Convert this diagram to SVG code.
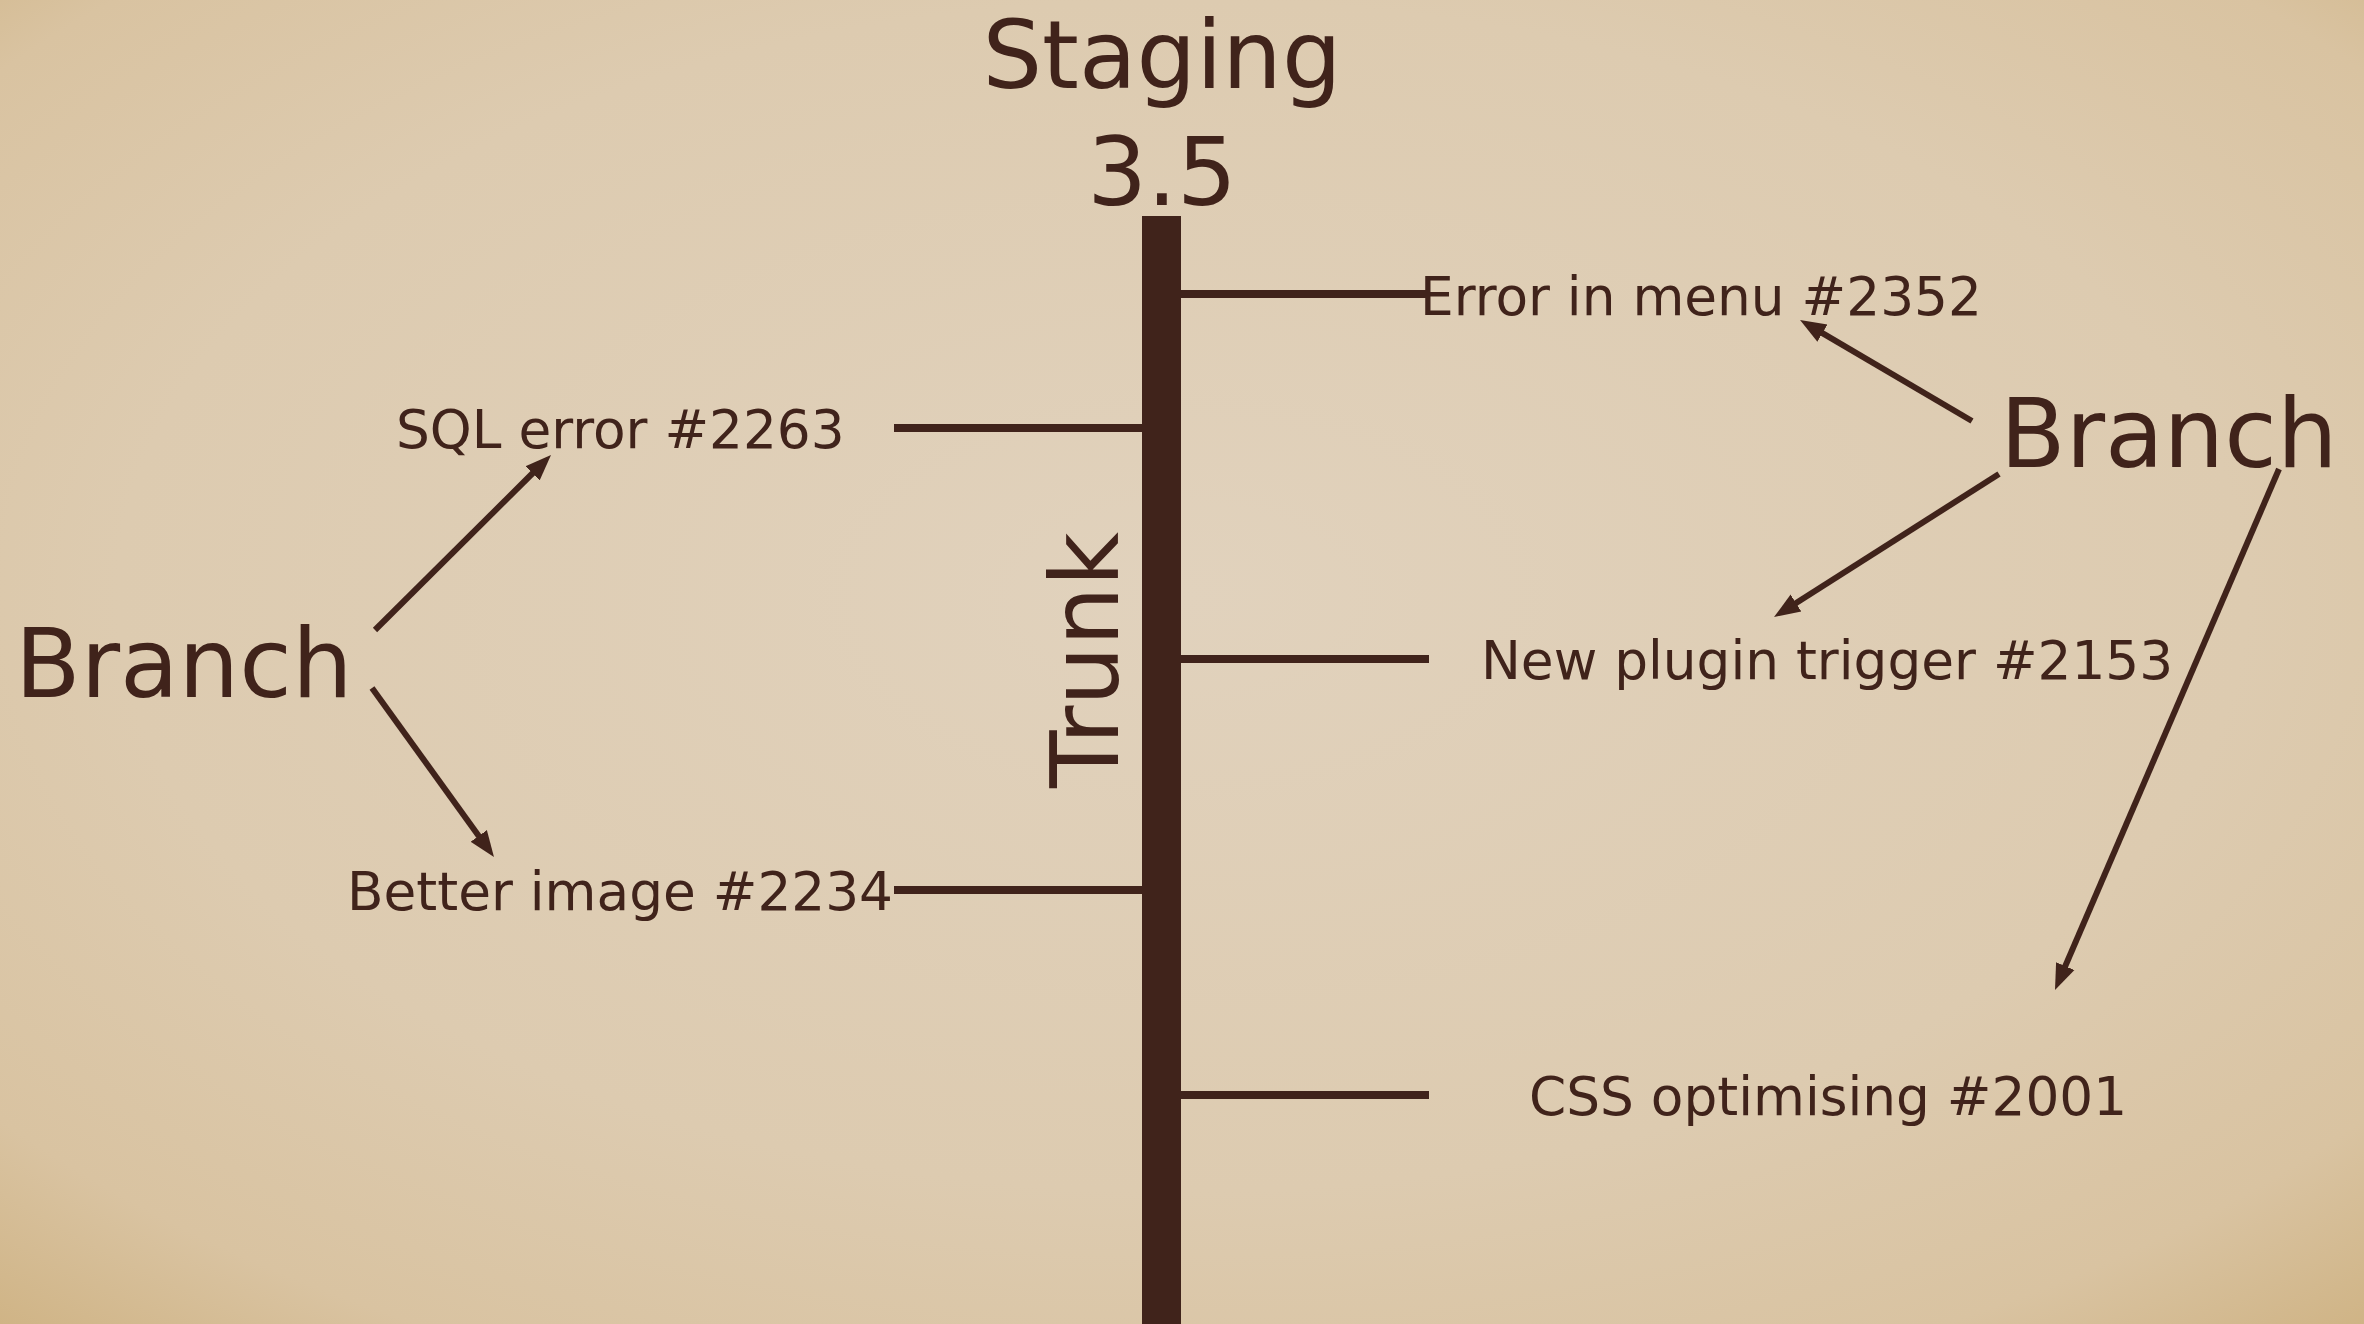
<svg xmlns="http://www.w3.org/2000/svg" width="2364" height="1324" viewBox="0 0 2364 1324">
<style>
  .t { font-family: "DejaVu Sans", "Liberation Sans", sans-serif; fill: #40231b; }
  .big { font-size: 94px; }
  .br { font-size: 95.7px; }
  .lbl { font-size: 53.3px; }
  .tick { stroke: #40231b; stroke-width: 8; fill: none; }
  .arr { stroke: #40231b; stroke-width: 6; fill: none; marker-end: url(#head); }
</style>
<defs>
  <radialGradient id="bg" cx="50%" cy="45%" r="75%">
    <stop offset="0" stop-color="#e1d2bd"/>
    <stop offset="0.6" stop-color="#ddcbb0"/>
    <stop offset="0.85" stop-color="#d9c3a1"/>
    <stop offset="1" stop-color="#cfb384"/>
  </radialGradient>
  <marker id="head" markerUnits="userSpaceOnUse" markerWidth="30" markerHeight="24" viewBox="0 0 30 24" refX="4" refY="12" orient="auto">
    <path d="M0,2 L26,12 L0,22 z" fill="#40231b"/>
  </marker>
</defs>
<rect x="0" y="0" width="2364" height="1324" fill="url(#bg)"/>

<g id="trunk">
  <rect x="1142" y="216" width="39" height="1108" fill="#40231b"/>
  <text class="t big" transform="translate(1118,660) rotate(-90)" text-anchor="middle" x="0" y="0">Trunk</text>
</g>

<g id="staging">
  <text class="t big" x="1162" y="88" text-anchor="middle">Staging</text>
  <text class="t big" x="1162" y="205" text-anchor="middle">3.5</text>
</g>

<g id="branch-left">
  <text class="t br" x="15" y="697">Branch</text>
</g>
<g id="branch-right">
  <text class="t br" x="2000" y="467">Branch</text>
</g>

<g id="error-menu"><text class="t lbl" x="1420" y="315">Error in menu #2352</text></g>
<g id="new-plugin"><text class="t lbl" x="1481" y="679">New plugin trigger #2153</text></g>
<g id="css-opt"><text class="t lbl" x="1529" y="1115">CSS optimising #2001</text></g>
<g id="sql-error"><text class="t lbl" x="396" y="448">SQL error #2263</text></g>
<g id="better-image"><text class="t lbl" x="347" y="910">Better image #2234</text></g>

<g id="connectors">
  <line class="tick" x1="1181" y1="294" x2="1429" y2="294"/>
  <line class="tick" x1="1181" y1="659" x2="1429" y2="659"/>
  <line class="tick" x1="1181" y1="1095" x2="1429" y2="1095"/>
  <line class="tick" x1="894" y1="428" x2="1142" y2="428"/>
  <line class="tick" x1="894" y1="890" x2="1142" y2="890"/>

  <line class="arr" x1="375" y1="630" x2="535.4" y2="470.5"/>
  <line class="arr" x1="372" y1="688" x2="481.1" y2="839.2"/>
  <line class="arr" x1="1972" y1="421" x2="1819" y2="331.1"/>
  <line class="arr" x1="1999" y1="474" x2="1792.6" y2="605.2"/>
  <line class="arr" x1="2279" y1="469" x2="2063.7" y2="969.8"/>
</g>
</svg>
